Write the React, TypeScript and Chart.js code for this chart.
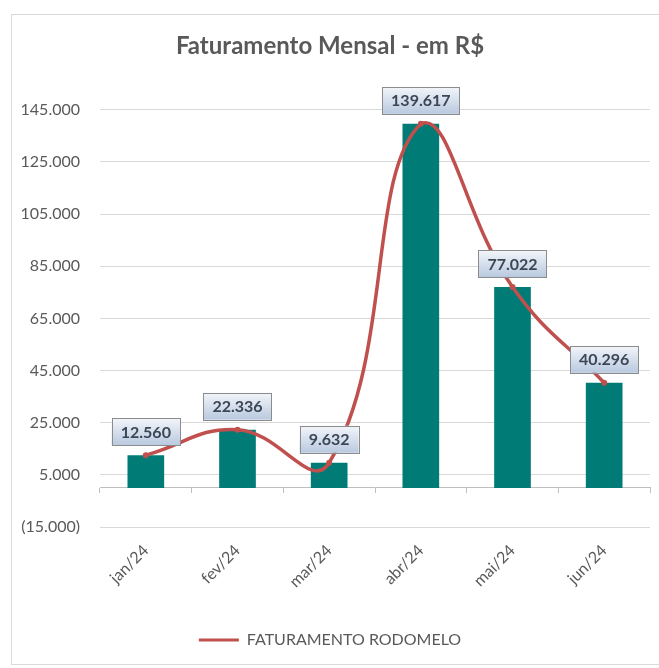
import React, { useEffect, useRef } from "react";
import { Chart, registerables } from "chart.js";

Chart.register(...registerables);

const months = ["jan/24", "fev/24", "mar/24", "abr/24", "mai/24", "jun/24"];
const revenue = [12560, 22336, 9632, 139617, 77022, 40296];
const yTicks = [-15000, 5000, 25000, 45000, 65000, 85000, 105000, 125000, 145000];
const titleText = "Faturamento Mensal - em R$";
const seriesName = "FATURAMENTO RODOMELO";

const fmt = (v: number) => {
  const s = Math.round(Math.abs(v)).toString().replace(/\B(?=(\d{3})+(?!\d))/g, ".");
  return v < 0 ? `(${s})` : s;
};

const labelPlugin = {
  id: "boxLabels",
  afterDatasetsDraw(chart: any) {
    const meta = chart.getDatasetMeta(0);
    const ctx = chart.ctx;
    const data = chart.data.datasets[0].data as number[];
    ctx.save();
    ctx.font = "bold 16px Lato";
    ctx.textAlign = "center";
    ctx.textBaseline = "middle";
    meta.data.forEach((pt: any, i: number) => {
      const text = fmt(data[i]);
      const w = ctx.measureText(text).width + 18;
      const h = 27;
      const x = pt.x - w / 2;
      const y = pt.y - 10 - h;
      const g = ctx.createLinearGradient(0, y, 0, y + h);
      g.addColorStop(0, "#f3f6fa");
      g.addColorStop(1, "#b9c9df");
      ctx.fillStyle = g;
      ctx.fillRect(x, y, w, h);
      ctx.strokeStyle = "#8c8c8c";
      ctx.lineWidth = 1;
      ctx.strokeRect(Math.round(x) + 0.5, Math.round(y) + 0.5, Math.round(w), Math.round(h));
      ctx.fillStyle = "#3b4656";
      ctx.fillText(text, pt.x, y + h / 2 + 1);
    });
    ctx.restore();
  },
};

export default function App() {
  const ref = useRef<HTMLCanvasElement | null>(null);
  useEffect(() => {
    if (!ref.current) return;
    Chart.defaults.font.family = "Lato";
    const chart = new Chart(ref.current, {
      type: "bar",
      data: {
        labels: months,
        datasets: [
          {
            type: "line",
            label: seriesName,
            data: revenue,
            borderColor: "#C0504D",
            backgroundColor: "#C0504D",
            borderWidth: 3.5,
            tension: 0.45,
            pointRadius: 3,
            pointBackgroundColor: "#C0504D",
            pointBorderWidth: 0,
            order: 1,
            xAxisID: "x",
            yAxisID: "y",
          } as any,
          {
            type: "bar",
            label: "bars",
            data: revenue,
            backgroundColor: "#007B75",
            barPercentage: 0.5,
            categoryPercentage: 0.8,
            order: 2,
            xAxisID: "x",
            yAxisID: "y",
          },
        ],
      },
      options: {
        animation: false,
        responsive: false,
        maintainAspectRatio: false,
        layout: { padding: { left: 10, right: 9, top: 0, bottom: 10 } },
        plugins: {
          title: {
            display: true,
            text: titleText,
            color: "#595959",
            font: { size: 24, weight: "bold" },
            padding: { top: 32, bottom: 49 },
          },
          legend: {
            position: "bottom",
            labels: {
              color: "#595959",
              font: { size: 16 },
              boxWidth: 40,
              boxHeight: 3,
              padding: 10,
              generateLabels: (c: any) =>
                Chart.defaults.plugins.legend.labels
                  .generateLabels(c)
                  .filter((it: any) => it.datasetIndex === 0)
                  .map((it: any) => ({ ...it, lineWidth: 0 })),
            },
          },
          tooltip: { enabled: false },
        },
        scales: {
          x: {
            type: "category",
            grid: { display: false },
            border: { display: false },
            ticks: {
              color: "#595959",
              font: { size: 16 },
              minRotation: 45,
              maxRotation: 45,
              padding: 6,
            },
            afterFit: (s: any) => {
              s.height = 95;
            },
          },
          x2: {
            type: "category",
            axis: "x",
            labels: months,
            position: { y: 0 },
            offset: true,
            grid: {
              offset: true,
              drawOnChartArea: false,
              drawTicks: true,
              tickLength: 5,
              color: "#bfbfbf",
            },
            border: { display: true, color: "#bfbfbf" },
            ticks: { display: false },
          } as any,
          y: {
            min: -15000,
            max: 145000,
            afterBuildTicks: (s: any) => {
              s.ticks = yTicks.map((v) => ({ value: v }));
            },
            grid: { color: "#d9d9d9", drawTicks: false },
            border: { display: false },
            ticks: {
              color: "#595959",
              font: { size: 16 },
              padding: 20,
              callback: (v: any) => fmt(Number(v)),
            },
            afterFit: (s: any) => {
              s.width = 90;
            },
          },
        },
      },
      plugins: [labelPlugin],
    } as any);
    return () => chart.destroy();
  }, []);

  return (
    <div style={{ position: "absolute", left: 0, top: 0, width: 659, height: 668, background: "#fff" }}>
      <div
        style={{
          position: "absolute",
          left: 11,
          top: 14,
          width: 700,
          height: 651,
          border: "1px solid #d9d9d9",
          boxSizing: "border-box",
        }}
      />
      <canvas ref={ref} width={659} height={668} style={{ position: "absolute", left: 0, top: 0 }} />
    </div>
  );
}
